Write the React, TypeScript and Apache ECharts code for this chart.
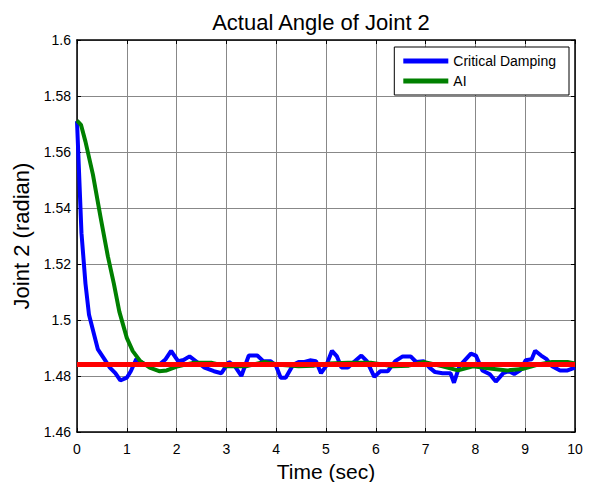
import React, { useEffect, useRef } from "react";
import * as echarts from "echarts";

const criticalT = [0, 0.09, 0.17, 0.24, 0.42, 0.55, 0.66, 0.77, 0.87, 1.0, 1.08, 1.19, 1.38, 1.65, 1.78, 1.89, 2.03, 2.14, 2.26, 2.41, 2.56, 2.75, 2.9, 3.05, 3.17, 3.3, 3.45, 3.62, 3.74, 3.89, 4.0, 4.09, 4.19, 4.34, 4.45, 4.57, 4.68, 4.8, 4.9, 5.0, 5.12, 5.22, 5.31, 5.44, 5.56, 5.71, 5.82, 5.97, 6.09, 6.24, 6.39, 6.54, 6.7, 6.81, 6.96, 7.08, 7.19, 7.34, 7.5, 7.57, 7.68, 7.91, 8.01, 8.14, 8.29, 8.41, 8.56, 8.67, 8.78, 8.9, 9.01, 9.13, 9.2, 9.32, 9.43, 9.54, 9.7, 9.85, 10];
const criticalY = [1.571, 1.531, 1.513, 1.502, 1.4895, 1.486, 1.483, 1.481, 1.4784, 1.4794, 1.4817, 1.486, 1.484, 1.484, 1.486, 1.489, 1.4853, 1.4857, 1.487, 1.485, 1.483, 1.4817, 1.481, 1.485, 1.4835, 1.48, 1.4873, 1.4873, 1.4853, 1.4853, 1.4835, 1.4794, 1.4794, 1.484, 1.485, 1.485, 1.4856, 1.4853, 1.481, 1.4835, 1.489, 1.487, 1.483, 1.483, 1.485, 1.4873, 1.4853, 1.4797, 1.4817, 1.4817, 1.4853, 1.487, 1.487, 1.485, 1.4853, 1.483, 1.4814, 1.481, 1.481, 1.4776, 1.4835, 1.488, 1.4873, 1.482, 1.4806, 1.478, 1.481, 1.4817, 1.4807, 1.482, 1.4856, 1.486, 1.489, 1.4873, 1.486, 1.4835, 1.482, 1.482, 1.483];

const aiT = [0, 0.08, 0.17, 0.32, 0.47, 0.62, 0.74, 0.85, 1.0, 1.12, 1.27, 1.46, 1.65, 1.8, 2.03, 2.33, 2.71, 3.01, 3.39, 3.77, 4.07, 4.45, 4.76, 5.06, 5.44, 5.9, 6.35, 6.66, 6.96, 7.34, 7.65, 7.95, 8.33, 8.64, 8.94, 9.24, 9.54, 9.85, 10];
const aiY = [1.5712, 1.5697, 1.5637, 1.5519, 1.537, 1.5227, 1.513, 1.503, 1.4936, 1.4889, 1.4853, 1.483, 1.4817, 1.482, 1.4835, 1.4847, 1.4847, 1.4835, 1.4835, 1.485, 1.484, 1.4835, 1.4837, 1.4845, 1.4847, 1.4847, 1.4835, 1.4837, 1.485, 1.4835, 1.482, 1.4835, 1.4826, 1.482, 1.4825, 1.484, 1.485, 1.485, 1.4845];

const referenceT = [0, 10];
const referenceY = [1.4841, 1.4841];

const xTicks = { min: 0, max: 10, interval: 1 };
const yTicks = { min: 1.46, max: 1.6, interval: 0.02 };

const FONT = "'Liberation Sans', Arial, sans-serif";

const zip = (a: number[], b: number[]) => a.map((v, i) => [v, b[i]]);

export default function App() {
  const ref = useRef<HTMLDivElement>(null);
  useEffect(() => {
    if (!ref.current) return;
    const chart = echarts.init(ref.current, undefined, { renderer: "svg" });
    const tickStyle = { show: true, inside: true, length: 4, lineStyle: { color: "#000", width: 1 } };
    const axisLineStyle = { show: true, onZero: false, lineStyle: { color: "#000", width: 1.5 } };
    const gridLine = { show: true, lineStyle: { color: "#888", width: 1 } };
    chart.setOption({
      animation: false,
      backgroundColor: "#fff",
      textStyle: { fontFamily: FONT },
      title: {
        text: "Actual Angle of Joint 2",
        left: 316,
        textAlign: "center",
        top: 6,
        textStyle: { fontFamily: FONT, fontSize: 22, fontWeight: "normal", color: "#000" },
      },
      legend: {
        orient: "vertical",
        right: 24,
        top: 47,
        data: ["Critical Damping", "AI"],
        icon: "rect",
        itemWidth: 45,
        itemHeight: 5,
        itemGap: 6,
        padding: [7, 13, 7, 9],
        backgroundColor: "#fff",
        borderColor: "#000",
        borderWidth: 1,
        textStyle: { fontFamily: FONT, fontSize: 14, color: "#000" },
      },
      grid: { left: 77, right: 18, top: 40, bottom: 50, containLabel: false, outerBoundsMode: "none" },
      xAxis: [
        {
          type: "value",
          ...xTicks,
          name: "Time (sec)",
          nameLocation: "middle",
          nameGap: 24,
          nameTextStyle: { fontFamily: FONT, fontSize: 21, color: "#000" },
          axisLine: axisLineStyle,
          axisTick: tickStyle,
          axisLabel: { color: "#000", fontSize: 14, margin: 10, fontFamily: FONT },
          splitLine: gridLine,
        },
        {
          type: "value",
          ...xTicks,
          position: "top",
          axisLine: axisLineStyle,
          axisTick: tickStyle,
          axisLabel: { show: false },
          splitLine: { show: false },
        },
      ],
      yAxis: [
        {
          type: "value",
          ...yTicks,
          name: "Joint 2 (radian)",
          nameLocation: "middle",
          nameGap: 40,
          nameTextStyle: { fontFamily: FONT, fontSize: 22, color: "#000" },
          axisLine: axisLineStyle,
          axisTick: tickStyle,
          axisLabel: { color: "#000", fontSize: 14, margin: 6, fontFamily: FONT },
          splitLine: gridLine,
        },
        {
          type: "value",
          ...yTicks,
          position: "right",
          axisLine: axisLineStyle,
          axisTick: tickStyle,
          axisLabel: { show: false },
          splitLine: { show: false },
        },
      ],
      series: [
        {
          name: "Critical Damping",
          type: "line",
          data: zip(criticalT, criticalY),
          showSymbol: false,
          symbol: "none",
          lineStyle: { color: "#0000ff", width: 4 },
          itemStyle: { color: "#0000ff" },
          z: 3,
        },
        {
          name: "AI",
          type: "line",
          data: zip(aiT, aiY),
          showSymbol: false,
          symbol: "none",
          lineStyle: { color: "#008000", width: 4 },
          itemStyle: { color: "#008000" },
          z: 4,
        },
        {
          name: "Reference",
          type: "line",
          data: zip(referenceT, referenceY),
          showSymbol: false,
          symbol: "none",
          lineStyle: { color: "#ff0000", width: 5 },
          itemStyle: { color: "#ff0000" },
          z: 5,
        },
      ],
    });
    return () => chart.dispose();
  }, []);
  return <div ref={ref} style={{ position: "fixed", left: 0, top: 0, width: 593, height: 482 }} />;
}
